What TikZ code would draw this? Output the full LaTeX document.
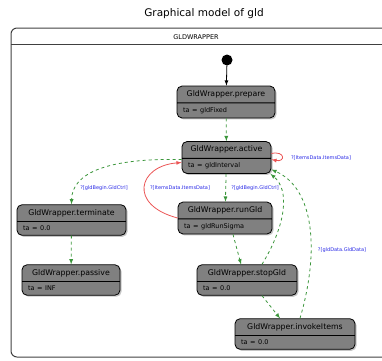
\documentclass[tikz,border=0pt]{standalone}
\usepackage{fontspec}
\setmainfont{DejaVu Sans}
\usetikzlibrary{shapes.multipart,shadows}
\definecolor{stategray}{RGB}{128,128,128}
\definecolor{trgreen}{RGB}{60,150,60}
\definecolor{trred}{RGB}{235,85,85}
\definecolor{lblblue}{RGB}{40,40,230}
\tikzset{
  gldstate/.style={rectangle split, rectangle split parts=2, draw=black, line width=0.8pt,
    fill=stategray, rounded corners=5pt, text width=#1, align=left, inner xsep=6pt,
    inner ysep=4pt, text height=6pt, text depth=2pt, font=\fontsize{7.8}{9}\selectfont,
    drop shadow={shadow xshift=1.5pt, shadow yshift=-1.5pt, opacity=0.45}},
  grtr/.style={trgreen, dashed, thick, -latex},
  redtr/.style={trred, thick, -latex},
  lbl/.style={lblblue, font=\fontsize{5}{6}\selectfont, inner sep=1pt}
}
\newcommand{\statename}[1]{\hfill #1\hfill\null}
\newcommand{\tarow}[1]{\nodepart{two}\fontsize{6.5}{8}\selectfont ta = #1}
\begin{document}
\begin{tikzpicture}[x=1pt, y=-1pt]
\clip (0,0) rectangle (382,360);
% frame
\node[font=\fontsize{10.5}{12}\selectfont] (title) at (204,14) {Graphical model of gld};
\draw[black!75, line width=1pt, rounded corners=6pt] (11,28) rectangle (392,357);
\draw[black!75, line width=0.8pt] (11,44) -- (392,44);
\node[font=\fontsize{6.5}{8}\selectfont] (wrapper) at (196,37) {GLDWRAPPER};
% states
\node[circle, fill=black, inner sep=0pt, minimum size=11pt] (init) at (227,60) {};
\node[gldstate=86] (prepare) at (226,102) {\statename{GldWrapper.prepare} \tarow{gldFixed}};
\node[gldstate=77] (active) at (226.5,157.5) {\statename{GldWrapper.active} \tarow{gldInterval}};
\node[gldstate=82] (runGld) at (225,218) {\statename{GldWrapper.runGld} \tarow{gldRunSigma}};
\node[gldstate=88] (stopGld) at (247,280) {\statename{GldWrapper.stopGld} \tarow{0.0}};
\node[gldstate=108] (invokeItems) at (295,334) {\statename{GldWrapper.invokeItems} \tarow{0.0}};
\node[gldstate=97] (terminate) at (71.5,220) {\statename{GldWrapper.terminate} \tarow{0.0}};
\node[gldstate=86] (passive) at (71,280) {\statename{GldWrapper.passive} \tarow{INF}};
% transitions
\draw[black, thick, -latex] (init) -- (prepare);
\draw[grtr] (prepare) -- (active);
\draw[grtr] (active) -- (runGld);
\draw[grtr] ([yshift=-2pt]active.west) .. controls (110,158) and (72,172) .. (terminate.north);
\draw[grtr] (terminate) -- (passive);
\draw[redtr] (runGld.west) .. controls (128,205) and (138,166) .. ([yshift=-5pt]active.west);
\draw[redtr] ([yshift=4pt]active.east) .. controls +(14,-3) and +(14,3) .. ([yshift=-2pt]active.east);
\draw[grtr] ([xshift=8pt]runGld.south) -- ([xshift=-6pt]stopGld.north);
\draw[grtr] ([xshift=15pt]stopGld.north) .. controls (286,225) and (290,190) .. ([xshift=-1pt]active.south east);
\draw[grtr] ([xshift=15pt]stopGld.south) -- ([xshift=-15pt]invokeItems.north);
\draw[grtr] ([xshift=5pt]invokeItems.north) .. controls (320,250) and (314,188) .. ([yshift=-12pt]active.east);
% labels
\node[lbl] (lblSelf) at (321,158) {?[ItemsData.ItemsData]};
\node[lbl] (lblTerm) at (104,188) {?[gldBegin.GldCtrl]};
\node[lbl] (lblBack) at (180,188) {?[ItemsData.ItemsData]};
\node[lbl] (lblRun) at (255,188) {?[gldBegin.GldCtrl]};
\node[lbl] (lblData) at (342,250) {?[gldData.GldData]};
\end{tikzpicture}
\end{document}
